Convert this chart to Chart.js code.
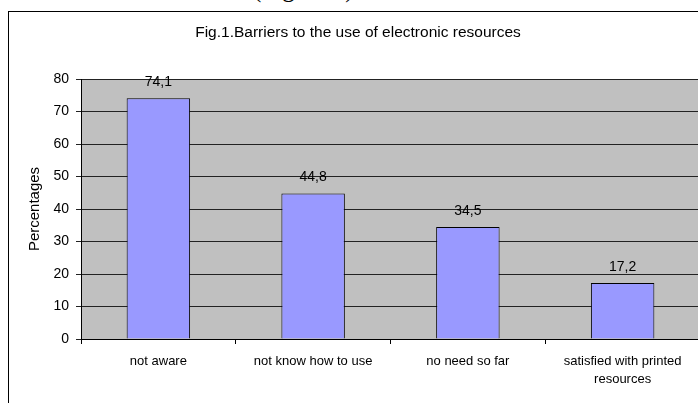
<!DOCTYPE html>
<html>
<head>
<meta charset="utf-8">
<script src="https://cdn.jsdelivr.net/npm/chart.js@4"></script>
<style>
  html, body { margin: 0; padding: 0; background: #fff; overflow: hidden; }
  #page { position: relative; width: 698px; height: 403px; overflow: hidden; }
  #caption {
    position: absolute; left: 253px; top: -24px;
    font-family: 'Liberation Serif', 'Times New Roman', serif;
    font-size: 25px; line-height: 25px; color: #000; white-space: nowrap;
  }
  #frame {
    position: absolute; left: 8px; top: 11px; width: 760px; height: 460px;
    border: 1px solid #000; box-sizing: border-box;
  }
  #chart { position: absolute; left: 0; top: 0; }
</style>
</head>
<body>
<div id="page">
  <div id="caption">(Figure 1)</div>
  <div id="frame"></div>
  <canvas id="chart" width="720" height="420"></canvas>
</div>
<script>
// Survey results: barriers to the use of electronic resources
const categories = [
  'not aware',
  'not know how to use',
  'no need so far',
  ['satisfied with printed', 'resources']
];
const percentages = [74.1, 44.8, 34.5, 17.2];
const yTicks = [0, 10, 20, 30, 40, 50, 60, 70, 80];

const FONT = "'Liberation Sans', Arial, sans-serif";

// grey plot-area background
const plotBackground = {
  id: 'plotBackground',
  beforeDraw(chart) {
    const { ctx, chartArea: a } = chart;
    ctx.save();
    ctx.fillStyle = '#C0C0C0';
    ctx.fillRect(a.left, a.top, a.right - a.left, a.bottom - a.top);
    ctx.restore();
  }
};

// value labels above each bar, decimal comma
const valueLabels = {
  id: 'valueLabels',
  afterDatasetsDraw(chart) {
    const { ctx } = chart;
    const meta = chart.getDatasetMeta(0);
    ctx.save();
    ctx.font = '14px ' + FONT;
    ctx.fillStyle = '#000';
    ctx.textAlign = 'center';
    ctx.textBaseline = 'alphabetic';
    meta.data.forEach((bar, i) => {
      const v = chart.data.datasets[0].data[i];
      ctx.fillText(v.toFixed(1).replace('.', ','), bar.x, bar.y - 12);
    });
    ctx.restore();
  }
};

new Chart(document.getElementById('chart'), {
  type: 'bar',
  data: {
    labels: categories,
    datasets: [{
      data: percentages,
      backgroundColor: '#9999FF',
      borderColor: '#000',
      borderWidth: 1,
      barPercentage: 0.41,
      categoryPercentage: 1.0
    }]
  },
  options: {
    responsive: false,
    animation: false,
    devicePixelRatio: 1,
    layout: { padding: { left: 16, right: 20, top: 0, bottom: 0 } },
    plugins: {
      legend: { display: false },
      tooltip: { enabled: false },
      title: {
        display: true,
        text: 'Fig.1.Barriers to the use of electronic resources',
        color: '#000',
        font: { family: FONT, size: 15.5, weight: 'normal', lineHeight: 1.2 },
        padding: { top: 23.7, bottom: 36.7 }
      }
    },
    scales: {
      x: {
        offset: true,
        grid: {
          offset: true,
          drawOnChartArea: false,
          drawTicks: true,
          tickLength: 5,
          color: '#000'
        },
        border: { color: '#000', width: 1 },
        ticks: {
          color: '#000',
          padding: 7.6,
          maxRotation: 0,
          autoSkip: false,
          font: { family: FONT, size: 13, lineHeight: 1.45 }
        },
        afterFit(scale) { scale.height = 81; }
      },
      y: {
        min: yTicks[0],
        max: yTicks[yTicks.length - 1],
        afterBuildTicks(scale) { scale.ticks = yTicks.map(v => ({ value: v })); },
        grid: { color: '#222', tickLength: 5, drawTicks: true },
        border: { color: '#000', width: 1 },
        ticks: {
          color: '#000',
          padding: 7,
          font: { family: FONT, size: 14 }
        },
        title: {
          display: true,
          text: 'Percentages',
          color: '#000',
          font: { family: FONT, size: 15, lineHeight: 1.2 },
          padding: { top: 10, bottom: 0 }
        },
        afterFit(scale) { scale.width = 65; }
      }
    }
  },
  plugins: [plotBackground, valueLabels]
});
</script>
</body>
</html>
